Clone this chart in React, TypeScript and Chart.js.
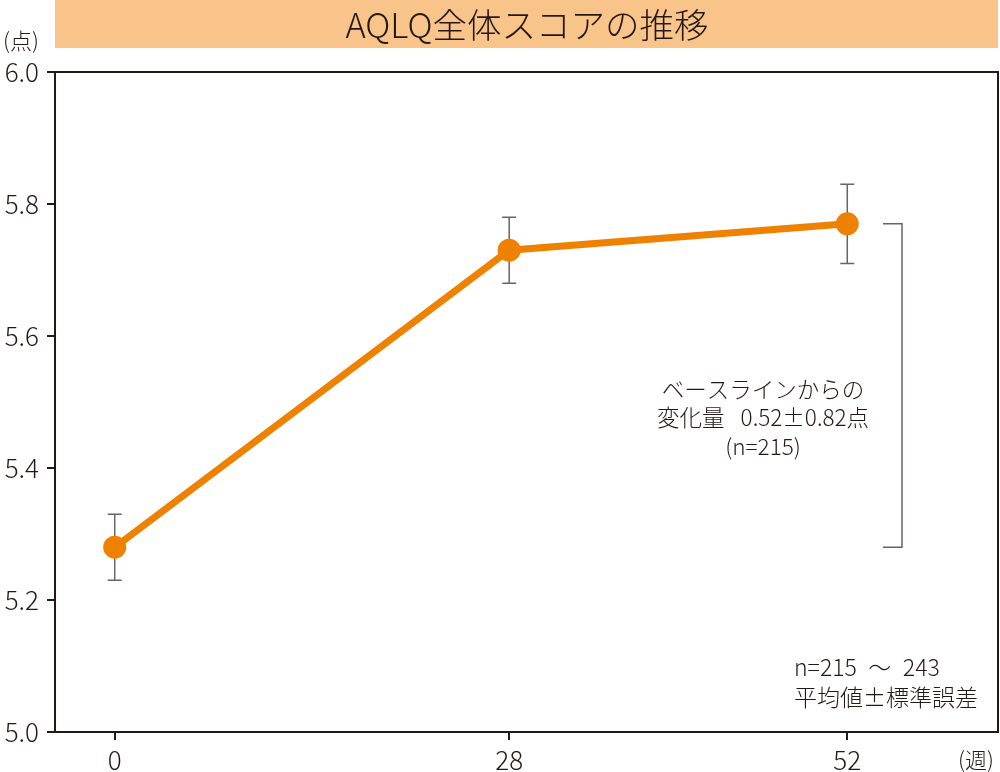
import React, { useEffect, useRef } from "react";
import { Chart, registerables } from "chart.js";

Chart.register(...registerables);

const weeks = [0, 28, 52];
const meanScore = [5.28, 5.73, 5.77];
const errUpper = [5.33, 5.78, 5.83];
const errLower = [5.23, 5.68, 5.71];
const yTicks = [5.0, 5.2, 5.4, 5.6, 5.8, 6.0];
const titleText = "AQLQ全体スコアの推移";
const yUnit = "(点)";
const xUnit = "(週)";
const changeNote = ["ベースラインからの", "変化量\u2002 0.52±0.82点", "(n=215)"];
const footNote = ["n=215\u2002～\u2002243", "平均値±標準誤差"];

const FONT = "'Noto Sans CJK JP', 'Noto Sans', sans-serif";
const DARK = "#231815";
const ORANGE = "#EE8200";
const GRAY = "#6b6361";

export default function App() {
  const ref = useRef<HTMLCanvasElement | null>(null);

  useEffect(() => {
    document.body.style.margin = "0";
    const canvas = ref.current;
    if (!canvas) return;

    const decor = {
      id: "decor",
      beforeDraw(chart: any) {
        const ctx = chart.ctx;
        const a = chart.chartArea;
        ctx.save();
        ctx.fillStyle = "#F8C48A";
        ctx.fillRect(a.left, 0, a.right - a.left, 48);
        ctx.fillStyle = DARK;
        ctx.font = `300 34.5px ${FONT}`;
        ctx.textAlign = "center";
        ctx.textBaseline = "middle";
        ctx.fillText(titleText, 527, 25);
        ctx.font = `300 22px ${FONT}`;
        ctx.fillText(yUnit, 21, 41);
        ctx.fillText(xUnit, 976, 760);
        ctx.restore();
      },
      beforeDatasetsDraw(chart: any) {
        const ctx = chart.ctx;
        const xs = chart.scales.x;
        const ys = chart.scales.y;
        ctx.save();
        ctx.strokeStyle = GRAY;
        ctx.lineWidth = 1.5;
        weeks.forEach((w, i) => {
          const px = xs.getPixelForValue(w);
          const t = ys.getPixelForValue(errUpper[i]);
          const b = ys.getPixelForValue(errLower[i]);
          ctx.beginPath();
          ctx.moveTo(px, t);
          ctx.lineTo(px, b);
          ctx.moveTo(px - 7, t);
          ctx.lineTo(px + 7, t);
          ctx.moveTo(px - 7, b);
          ctx.lineTo(px + 7, b);
          ctx.stroke();
        });
        // bracket for change from baseline
        const bt = ys.getPixelForValue(meanScore[2]);
        const bb = ys.getPixelForValue(meanScore[0]);
        ctx.lineWidth = 1.5;
        ctx.beginPath();
        ctx.moveTo(883, bt);
        ctx.lineTo(902, bt);
        ctx.lineTo(902, bb);
        ctx.lineTo(883, bb);
        ctx.stroke();
        ctx.restore();
      },
      afterDraw(chart: any) {
        const ctx = chart.ctx;
        const a = chart.chartArea;
        ctx.save();
        ctx.strokeStyle = DARK;
        ctx.lineWidth = 2;
        ctx.beginPath();
        ctx.moveTo(a.left, a.top);
        ctx.lineTo(a.right, a.top);
        ctx.lineTo(a.right, a.bottom);
        ctx.stroke();
        ctx.fillStyle = DARK;
        ctx.font = `300 22.5px ${FONT}`;
        ctx.textAlign = "center";
        ctx.textBaseline = "middle";
        changeNote.forEach((s, i) => ctx.fillText(s, 763, 389 + i * 28.5));
        ctx.textAlign = "left";
        ctx.font = `300 23px ${FONT}`;
        footNote.forEach((s, i) => ctx.fillText(s, 794, 667 + i * 30));
        ctx.restore();
      },
    };

    const chart = new Chart(canvas, {
      type: "line",
      data: {
        datasets: [
          {
            data: weeks.map((w, i) => ({ x: w, y: meanScore[i] })),
            borderColor: ORANGE,
            backgroundColor: ORANGE,
            borderWidth: 7,
            pointRadius: 11.5,
            pointBorderWidth: 0,
            pointBackgroundColor: ORANGE,
            tension: 0,
            clip: false as any,
          },
        ],
      },
      options: {
        animation: false,
        responsive: false,
        maintainAspectRatio: false,
        layout: { autoPadding: false, padding: { top: 72, right: 2, left: 0, bottom: 0 } },
        plugins: { legend: { display: false }, tooltip: { enabled: false }, title: { display: false } },
        scales: {
          x: {
            type: "linear",
            min: -4.24,
            max: 62.7,
            afterBuildTicks: (s: any) => {
              s.ticks = weeks.map((v) => ({ value: v }));
            },
            afterFit: (s: any) => {
              s.height = 40;
              s.paddingLeft = 0;
              s.paddingRight = 0;
            },
            ticks: {
              color: DARK,
              font: { family: FONT, size: 26, weight: "300" as any },
              padding: 5,
              maxRotation: 0,
              autoSkip: false,
              callback: (v: any) => String(v),
            },
            grid: { display: true, drawOnChartArea: false, tickLength: 8, color: DARK, lineWidth: 2 },
            border: { display: true, color: DARK, width: 2 },
          },
          y: {
            type: "linear",
            min: 5.0,
            max: 6.0,
            afterBuildTicks: (s: any) => {
              s.ticks = yTicks.map((v) => ({ value: v }));
            },
            afterFit: (s: any) => {
              s.width = 55;
              s.paddingTop = 0;
              s.paddingBottom = 0;
            },
            ticks: {
              color: DARK,
              font: { family: FONT, size: 26, weight: "300" as any },
              padding: 8,
              autoSkip: false,
              callback: (v: any) => Number(v).toFixed(1),
            },
            grid: { display: true, drawOnChartArea: false, tickLength: 8, color: DARK, lineWidth: 2 },
            border: { display: true, color: DARK, width: 2 },
          },
        },
      },
      plugins: [decor],
    });
    return () => chart.destroy();
  }, []);

  return (
    <div style={{ position: "absolute", left: 0, top: 0, width: 1000, height: 772, background: "#fff" }}>
      <canvas ref={ref} width={1000} height={772} style={{ width: 1000, height: 772 }} />
    </div>
  );
}
